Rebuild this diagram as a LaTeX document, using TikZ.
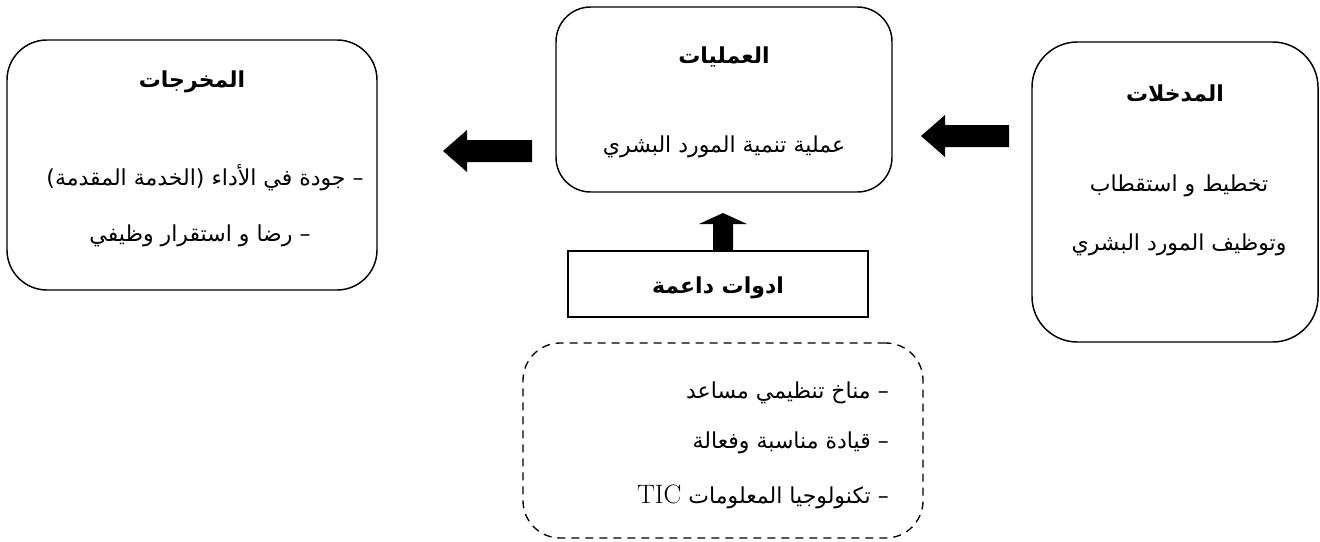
\documentclass[tikz,border=0pt]{standalone}
\usepackage{fontspec}
\TeXXeTstate=1
\newfontfamily\arabicfont[Script=Arabic]{DejaVu Sans}
\begin{document}
\begin{tikzpicture}[x=0.75pt,y=-0.75pt,
  box/.style={draw, line width=1.1pt, inner sep=0pt},
  txt/.style={font=\arabicfont\fontsize{16.5}{20}\selectfont, inner sep=0pt},
  ttl/.style={font=\arabicfont\bfseries\fontsize{16.5}{20}\selectfont, inner sep=0pt},
  blockarrow/.style={fill=black}]
\useasboundingbox (0,0) rectangle (1320,542);
% boxes
\node[box, rounded corners=30pt, minimum width=277.5pt, minimum height=187.5pt] (outputs) at (192,165) {};
\node[box, rounded corners=26pt, minimum width=252pt, minimum height=138.75pt] (process) at (724,99.5) {};
\node[box, rounded corners=34pt, minimum width=214.5pt, minimum height=225pt] (inputs) at (1175,192) {};
\node[box, minimum width=225pt, minimum height=49.5pt] (tools) at (718,284) {};
\node[draw, line width=1pt, dash pattern=on 6pt off 4.5pt, rounded corners=28pt, minimum width=300pt, minimum height=146.25pt] (support) at (723,440.5) {};
% texts
\node[ttl] (outT) at (192,82) {\beginR المخرجات\endR};
\node[txt] (out1) at (205,178) {\beginR – جودة في الأداء (الخدمة المقدمة)\endR};
\node[txt] (out2) at (200,236) {\beginR – رضا و استقرار وظيفي\endR};
\node[ttl] (procT) at (724,57) {\beginR العمليات\endR};
\node[txt] (proc1) at (724,147) {\beginR عملية تنمية المورد البشري\endR};
\node[ttl] (inT) at (1175,93) {\beginR المدخلات\endR};
\node[txt] (in1) at (1179,186) {\beginR تخطيط و استقطاب\endR};
\node[txt] (in2) at (1179,245) {\beginR وتوظيف المورد البشري\endR};
\node[ttl] (toolsT) at (718,288) {\beginR ادوات داعمة\endR};
\node[txt, anchor=east] (sup1) at (889,393) {\beginR – مناخ تنظيمي مساعد\endR};
\node[txt, anchor=east] (sup2) at (889,443) {\beginR – قيادة مناسبة وفعالة\endR};
\node[txt, anchor=east] (sup3) at (889,497) {\beginR – تكنولوجيا المعلومات {\rmfamily\fontsize{20}{24}\selectfont\beginL TIC\endL}\endR};
% block arrows
\fill[blockarrow] (532,140) -- (467,140) -- (467,130) -- (443,151) -- (467,172) -- (467,162) -- (532,162) -- cycle;
\fill[blockarrow] (1009,125) -- (945,125) -- (945,115) -- (921,136) -- (945,157) -- (945,147) -- (1009,147) -- cycle;
\fill[blockarrow] (713,251) -- (713,224) -- (699,224) -- (723,213) -- (747,224) -- (733,224) -- (733,251) -- cycle;
\end{tikzpicture}
\end{document}
